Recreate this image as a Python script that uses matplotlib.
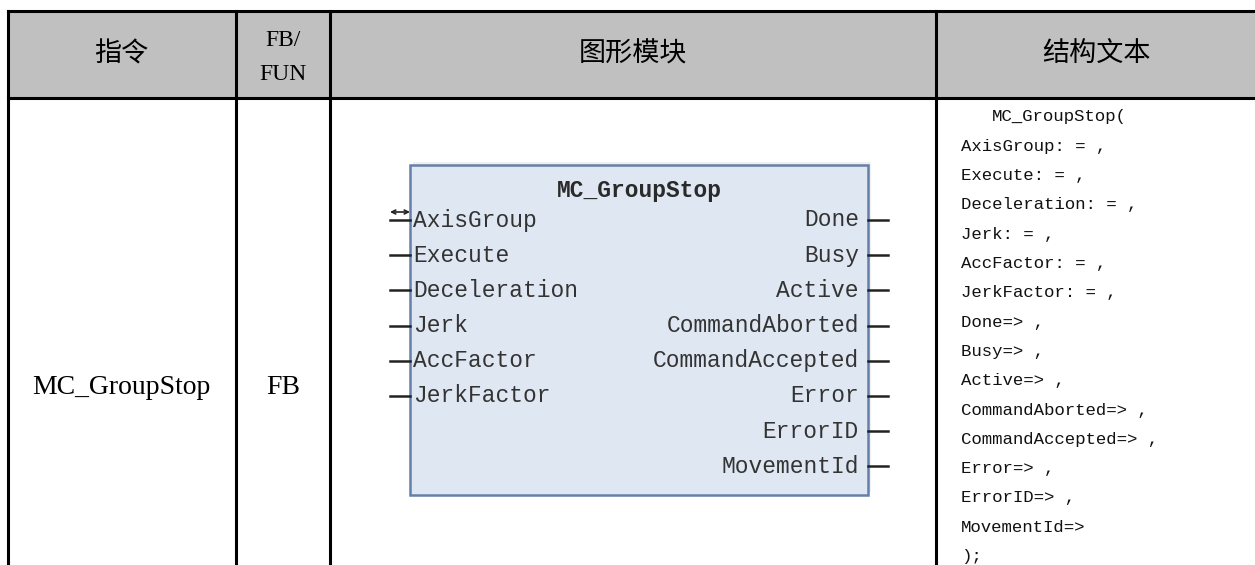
import matplotlib.pyplot as plt
import matplotlib.patches as patches

# table content
headers = ["指令", "FB/\nFUN", "图形模块", "结构文本"]
instruction = "MC_GroupStop"
fb_type = "FB"
block_title = "MC_GroupStop"
inputs = ["AxisGroup", "Execute", "Deceleration", "Jerk", "AccFactor", "JerkFactor"]
outputs = ["Done", "Busy", "Active", "CommandAborted", "CommandAccepted",
           "Error", "ErrorID", "MovementId"]
st_lines = ["MC_GroupStop(", "AxisGroup: = ,", "Execute: = ,", "Deceleration: = ,",
            "Jerk: = ,", "AccFactor: = ,", "JerkFactor: = ,", "Done=> ,", "Busy=> ,",
            "Active=> ,", "CommandAborted=> ,", "CommandAccepted=> ,", "Error=> ,",
            "ErrorID=> ,", "MovementId=>", ");"]

W, H = 1255, 565
fig = plt.figure(figsize=(W / 100, H / 100), dpi=100)
ax = fig.add_axes([0, 0, 1, 1])
ax.set_xlim(0, W)
ax.set_ylim(H, 0)
ax.axis("off")

col_x = [7.5, 235.5, 330, 935.5, 1257]
top, head_bot = 10.5, 97.5

# header background + grid
ax.add_patch(patches.Rectangle((col_x[0], top), col_x[-1] - col_x[0], head_bot - top,
                               facecolor="#c0c0c0", edgecolor="none"))
ax.plot([col_x[0], W], [top, top], color="black", lw=2.2)
ax.plot([col_x[0], W], [head_bot, head_bot], color="black", lw=2.2)
for x in col_x[:-1]:
    ax.plot([x, x], [top, H + 5], color="black", lw=2.2)

cjk = ["Noto Sans CJK SC", "DejaVu Sans"]
for i, h in enumerate(headers):
    cx = (col_x[i] + col_x[i + 1]) / 2
    if i == 1:
        a, b = h.split("\n")
        ax.text(cx, 40, a, ha="center", va="center", fontsize=17, family="Liberation Serif")
        ax.text(cx, 74, b, ha="center", va="center", fontsize=17, family="Liberation Serif")
    else:
        ax.text(cx, 54, h, ha="center", va="center", fontsize=19.5, family=cjk)

ax.text((col_x[0] + col_x[1]) / 2, 388, instruction, ha="center", va="center",
        fontsize=20, family="Liberation Serif")
ax.text((col_x[1] + col_x[2]) / 2, 388, fb_type, ha="center", va="center",
        fontsize=20, family="Liberation Serif")

# function block
bx0, bx1, by0, by1 = 410, 868, 165, 495
ax.add_patch(patches.Rectangle((bx0 + 3, by0 - 3), bx1 - bx0, by1 - by0,
                               facecolor="#eef0f3", edgecolor="none"))
ax.add_patch(patches.Rectangle((bx0, by0), bx1 - bx0, by1 - by0,
                               facecolor="#dfe7f2", edgecolor="#6580a6", lw=1.8))
ax.text((bx0 + bx1) / 2, 190, block_title, ha="center", va="center", fontsize=16.5,
        family="Liberation Mono", fontweight="bold", color="#2a2a2a")
row0, step = 220, 35.2
for i, name in enumerate(inputs):
    y = row0 + i * step
    ax.plot([390, bx0], [y, y], color="#222222", lw=1.8)
    ax.text(bx0 + 3, y, name, ha="left", va="center", fontsize=16.5,
            family="Liberation Mono", color="#333333")
for i, name in enumerate(outputs):
    y = row0 + i * step
    ax.plot([bx1, 888], [y, y], color="#222222", lw=1.8)
    ax.text(bx1 - 9, y, name, ha="right", va="center", fontsize=16.5,
            family="Liberation Mono", color="#333333")
ax.annotate("", xy=(390, row0 - 8), xytext=(410, row0 - 8),
            arrowprops=dict(arrowstyle="<->", color="#222222", lw=1.2,
                            mutation_scale=7, shrinkA=0, shrinkB=0))

# structured text
for i, line in enumerate(st_lines):
    x = 992 if i == 0 else 961
    ax.text(x, 117 + i * 29.3, line, ha="left", va="center", fontsize=12.5,
            family="Liberation Mono", color="#111111")

fig.savefig("out.png", dpi=100)
